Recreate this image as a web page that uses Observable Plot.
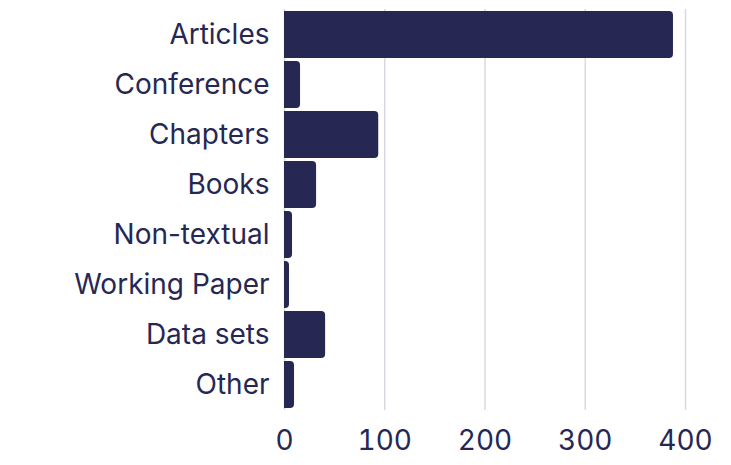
<!DOCTYPE html>
<html>
<head>
<meta charset="utf-8">
<script src="https://cdn.jsdelivr.net/npm/d3@7"></script>
<script src="https://cdn.jsdelivr.net/npm/@observablehq/plot@0.6"></script>
<style>
  html, body { margin: 0; padding: 0; background: #ffffff; }
  #chart svg { font-family: "Inter", "Roboto", sans-serif; }
</style>
</head>
<body>
<div id="chart"></div>
<script>
const categories = ["Articles", "Conference", "Chapters", "Books", "Non-textual", "Working Paper", "Data sets", "Other"];
const counts = [388, 16, 94, 32, 8, 5, 41, 10];
const xTicks = [0, 100, 200, 300, 400];

const data = categories.map((c, i) => ({category: c, count: counts[i]}));

const navy = "#262853";

const chart = Plot.plot({
  width: 731,
  height: 465,
  marginLeft: 284,
  marginRight: 46,
  marginTop: 9,
  marginBottom: 55,
  style: {fontSize: "28px", color: navy, background: "#ffffff"},
  x: {domain: [0, 400], ticks: xTicks, label: null, tickSize: 0, tickPadding: 18},
  y: {domain: categories, label: null, tickSize: 0, tickPadding: 15, paddingInner: 0.07, paddingOuter: 0.02},
  marks: [
    Plot.gridX(xTicks, {stroke: "#d9d9e3", strokeOpacity: 1, strokeWidth: 1.5}),
    Plot.barX(data, {x: "count", y: "category", fill: navy, rx2: 4}),
    Plot.axisX({ticks: xTicks, tickSize: 0, tickPadding: 20, fill: navy, label: null}),
    Plot.axisY({tickSize: 0, tickPadding: 15, fill: navy, label: null})
  ]
});
document.getElementById("chart").appendChild(chart);
</script>
</body>
</html>
